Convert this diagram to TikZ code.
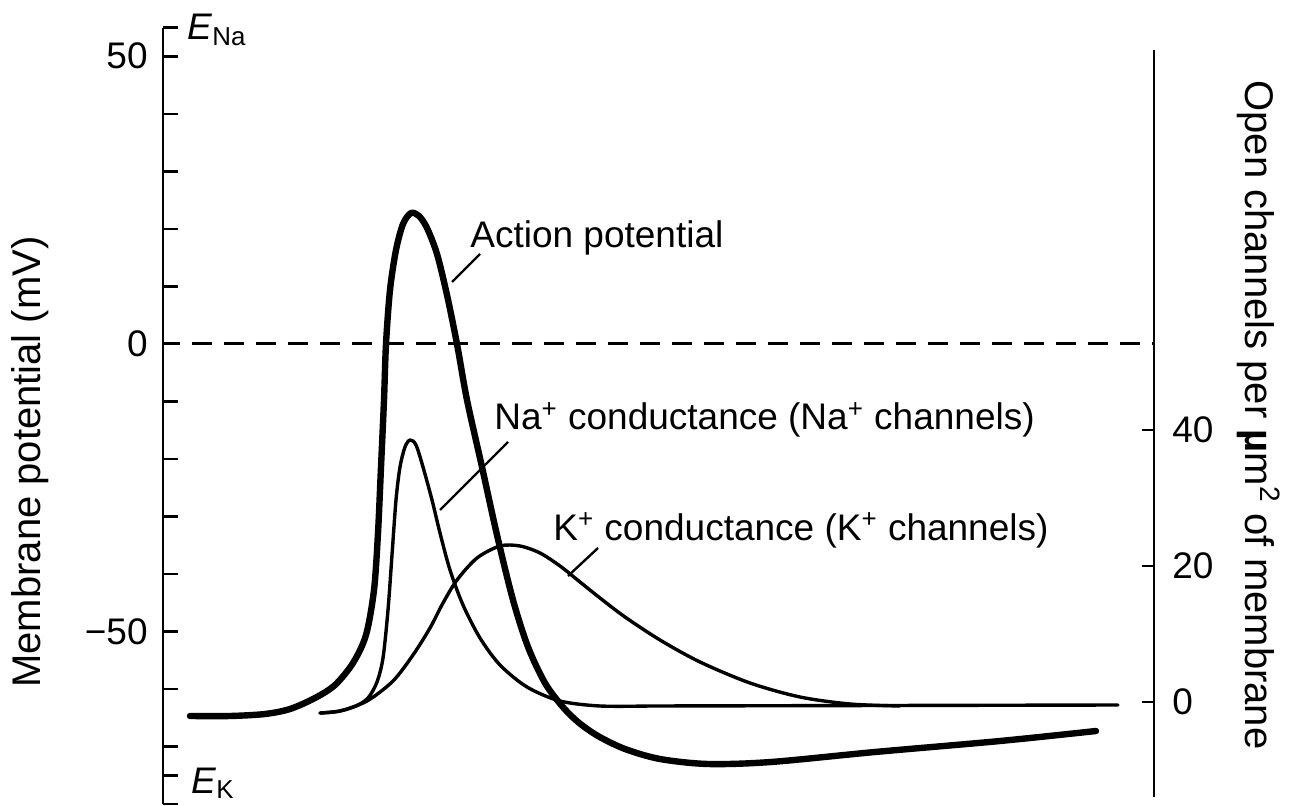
\documentclass[tikz,border=0pt]{standalone}
\usepackage{fontspec}
\setmainfont{Liberation Sans}
\usetikzlibrary{positioning}
\newcommand{\lblfont}{\fontsize{18.5}{22}\selectfont}
\newcommand{\axlblfont}{\fontsize{20}{24}\selectfont}

\begin{document}
\begin{tikzpicture}[x=0.5pt, y=-0.5pt,
        axis/.style={line width=1.3pt},
        apcurve/.style={line width=3.2pt, line join=round, line cap=round},
        gcurve/.style={line width=1.7pt, line join=round, line cap=round},
        leader/.style={line width=1.2pt},
        every node/.style={font=\lblfont, inner sep=0pt}]
        \useasboundingbox (0,0) rectangle (1300,806);

        % 左轴 (mV)
        \draw[axis] (163,28) -- (163,804);
        \foreach \v in {55,50,40,30,20,10,0,-10,-20,-30,-40,-50,-60,-70,-75,-80}
            \draw[axis] (163,{344-5.75*\v}) -- ++(15,0);
        \node[anchor=east] (t50) at (148,56) {50};
        \node[anchor=east] (t0) at (148,344) {0};
        \node[anchor=east] (tm50) at (148,632) {−50};
        \node[anchor=base west] (ena) at (187,40) {\textit{E}\textsubscript{Na}};
        \node[anchor=base west] (ek) at (191,793) {\textit{E}\textsubscript{K}};
        \node[rotate=90, anchor=base, font=\axlblfont] (vlabel) at (40,462) {Membrane potential (mV)};

        % 右轴 (通道数)
        \draw[axis] (1154,50) -- (1154,797);
        \foreach \n in {0,20,40} {
            \draw[axis] (1154,{702-6.8*\n}) -- ++(-12,0);
            \node[anchor=west] (c\n) at (1172,{702-6.8*\n}) {\n};
        }
        \node[rotate=-90, anchor=base, font=\axlblfont] (clabel) at (1245,415)
            {Open channels per \textbf{µ}m\textsuperscript{2} of membrane};

        % 0 mV 虚线
        \draw[line width=1.5pt, dash pattern=on 10pt off 6pt, dash phase=1.5pt] (163,344) -- (1154,344);

        % 动作电位
        \draw[apcurve] plot[smooth] coordinates {
            (190,716) (230,716) (265,714) (290,709) (315,698) (335,685) (353,663)
            (366,635) (374,590) (378,533) (381,467) (384,400) (386,344) (390,290)
            (396,250) (403,224) (411,213) (419,216) (427,228) (437,254) (447,295)
            (457,344) (467,400) (482,467) (497,535) (513,600) (528,647) (545,683)
            (562,706) (578,722) (598,736) (625,749) (660,759) (708,764) (771,762)
            (875,752) (1000,741) (1096,731)};

        % Na+ 电导
        \draw[gcurve] plot[smooth] coordinates {
            (320,713) (340,711) (356,706) (368,698) (377,682) (383,658) (388,610)
            (392,555) (396,500) (400,467) (405,447) (410,440) (416,445) (423,467)
            (432,500) (440,533) (450,570) (463,605) (480,638) (500,665) (527,687)
            (560,701) (600,706) (650,706)} -- (1118,705);

        % K+ 电导
        \draw[gcurve] plot[smooth] coordinates {
            (320,713) (340,711) (367,701) (393,681) (413,655) (430,628) (443,603)
            (457,580) (477,558) (500,546) (520,546) (540,553) (560,566) (580,582)
            (600,598) (625,617) (660,640) (700,662) (750,683) (800,697) (850,704)
            (900,706)};

        % 标注
        \node[anchor=base west] (aplabel) at (470,248) {Action potential};
        \node[anchor=base west] (nalabel) at (494,430) {Na\textsuperscript{+} conductance (Na\textsuperscript{+} channels)};
        \node[anchor=base west] (klabel) at (553,540) {K\textsuperscript{+} conductance (K\textsuperscript{+} channels)};
        \coordinate (aptip) at (452,282);
        \coordinate (apfoot) at (480,254);
        \coordinate (natip) at (440,510);
        \coordinate (nafoot) at (508,442);
        \coordinate (ktip) at (568,576);
        \coordinate (kfoot) at (598,548);
        \draw[leader] (aptip) -- (apfoot);
        \draw[leader] (natip) -- (nafoot);
        \draw[leader] (ktip) -- (kfoot);

    \end{tikzpicture}
\end{document}
